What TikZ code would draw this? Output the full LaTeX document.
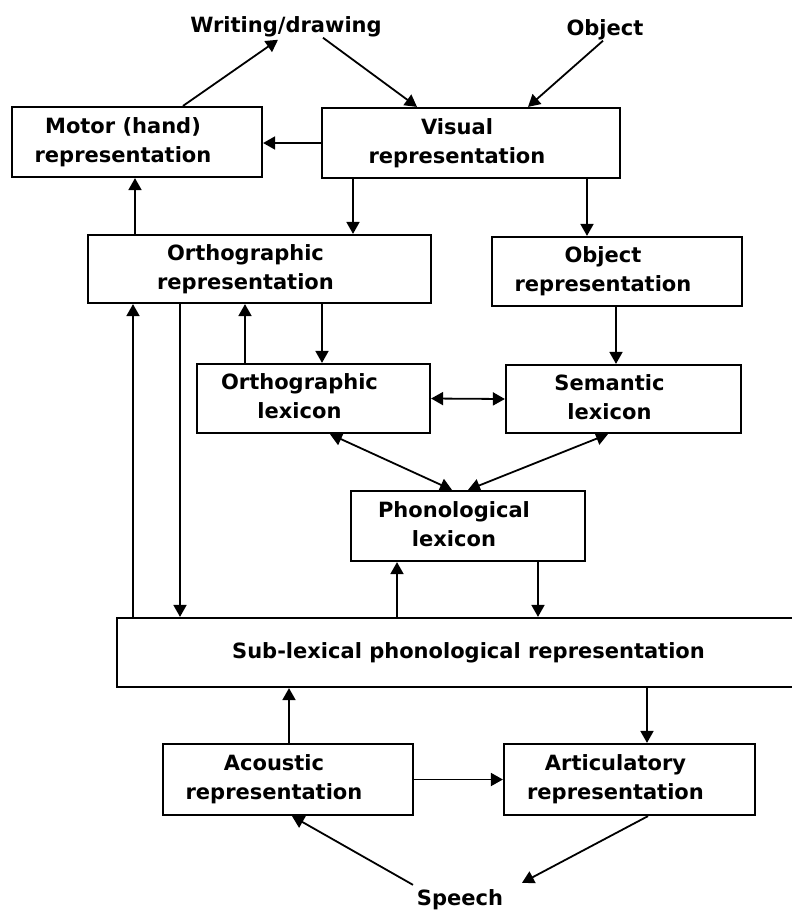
\documentclass[tikz,border=0pt]{standalone}
\usepackage{fontspec}
\setmainfont{DejaVu Sans}
\usetikzlibrary{arrows.meta}
\tikzset{>={Triangle[length=12pt,width=13pt]}}
\tikzset{rep/.style 2 args={draw, line width=2.2pt, inner sep=0pt, minimum width=#1pt, minimum height=#2pt, font=\bfseries\fontsize{21}{29}\selectfont}}
\tikzset{lab/.style={inner sep=1pt, anchor=base, font=\bfseries\fontsize{21}{29}\selectfont}}
\tikzset{con/.style={->, line width=1.8pt}}
\newcommand{\twolines}[2]{\begin{tabular}{@{}c@{}}#1\\#2\end{tabular}\hspace*{28pt}}

\begin{document}
\begin{tikzpicture}[x=1pt, y=-1pt]
        \clip (0,0) rectangle (792,914);

        % outside world
        \node[lab] (writing) at (286,32) {Writing/drawing};
        \node[lab] (object) at (605,35) {Object};
        \node[lab] (speech) at (460,905) {Speech};

        % boxes
        \node[rep={250}{70}] (motor) at (137,142) {\twolines{Motor (hand)}{representation}};
        \node[rep={298}{70}] (visual) at (471,143) {\twolines{Visual}{representation}};
        \node[rep={343}{68}] (orthrep) at (259.5,269) {\twolines{Orthographic}{representation}};
        \node[rep={250}{69}] (objrep) at (617,271.5) {\twolines{Object}{representation}};
        \node[rep={233}{69}] (orthlex) at (313.5,398.5) {\twolines{Orthographic}{lexicon}};
        \node[rep={235}{68}] (semlex) at (623.5,399) {\twolines{Semantic}{lexicon}};
        \node[rep={234}{70}] (phonlex) at (468,526) {\twolines{Phonological}{lexicon}};
        \node[rep={703}{69}] (sublex) at (468.5,652.5) {Sub-lexical phonological representation};
        \node[rep={250}{71}] (acoustic) at (288,779.5) {\twolines{Acoustic}{representation}};
        \node[rep={251}{71}] (artic) at (629.5,779.5) {\twolines{Articulatory}{representation}};

        % top
        \draw[con] ([xshift=46pt]motor.north) -- ([xshift=-8pt,yshift=-2pt]writing.south);
        \draw[con] ([xshift=37pt]writing.south) -- ([xshift=-54pt]visual.north);
        \draw[con] ([xshift=-2pt]object.south) -- ([xshift=57pt]visual.north);
        \draw[con] (visual.west) -- (visual.west -| motor.east);
        \draw[con] ([xshift=-118pt]visual.south) -- ([xshift=93.5pt]orthrep.north);
        \draw[con] ([xshift=116pt]visual.south) -- ([xshift=-30pt]objrep.north);
        \draw[con] ([xshift=-124.5pt]orthrep.north) -- ([xshift=-2pt]motor.south);

        % middle
        \draw[con] ([xshift=-335.5pt]sublex.north) -- ([xshift=-126.5pt]orthrep.south);
        \draw[con] ([xshift=-79.5pt]orthrep.south) -- ([xshift=-288.5pt]sublex.north);
        \draw[con] ([xshift=-68.5pt]orthlex.north) -- ([xshift=-14.5pt]orthrep.south);
        \draw[con] ([xshift=62.5pt]orthrep.south) -- ([xshift=8.5pt]orthlex.north);
        \draw[con] ([xshift=-1pt]objrep.south) -- ([xshift=-7.5pt]semlex.north);
        \draw[con, <->] (orthlex.east) -- (semlex.west);
        \draw[con, <->] ([xshift=16.5pt]orthlex.south) -- ([xshift=-16pt]phonlex.north);
        \draw[con, <->] ([xshift=-15.5pt]semlex.south) -- (phonlex.north);
        \draw[con] ([xshift=-71.5pt]sublex.north) -- ([xshift=-71pt]phonlex.south);
        \draw[con] ([xshift=70pt]phonlex.south) -- ([xshift=69.5pt]sublex.north);

        % bottom
        \draw[con] ([xshift=1pt]acoustic.north) -- ([xshift=-179.5pt]sublex.south);
        \draw[con] ([xshift=178.5pt]sublex.south) -- ([xshift=17.5pt]artic.north);
        \draw[con] (acoustic.east) -- (artic.west);
        \draw[con] ([xshift=-47pt,yshift=3pt]speech.north) -- ([xshift=4pt]acoustic.south);
        \draw[con] ([xshift=18.5pt]artic.south) -- ([xshift=62pt,yshift=5pt]speech.north);
\end{tikzpicture}
\end{document}
